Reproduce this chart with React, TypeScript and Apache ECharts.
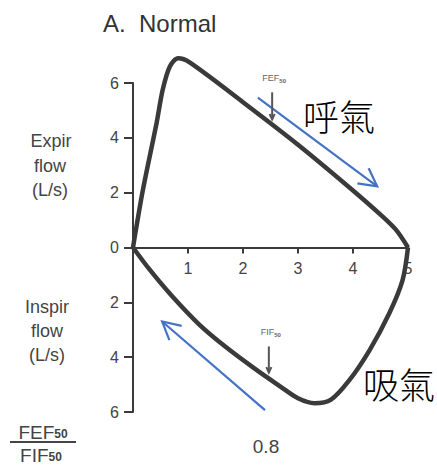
import React, { useEffect, useRef } from "react";
import * as echarts from "echarts";

// Flow–volume loop data (volume in L, flow in L/s; expiration positive, inspiration negative)
const expirVolume = [0, 0.18, 0.43, 0.54, 0.67, 0.82, 1.03, 2.0, 3.0, 3.93, 4.5, 4.78, 5.0];
const expirFlow = [0, 2.1, 4.55, 5.75, 6.6, 6.9, 6.75, 5.3, 3.75, 2.2, 1.2, 0.65, 0];
const inspirVolume = [0, 0.3, 0.7, 1.2, 1.7, 2.2, 2.7, 3.0, 3.3, 3.6, 3.93, 4.3, 4.66, 4.9, 5.0];
const inspirFlow = [0, -0.8, -1.75, -2.8, -3.65, -4.4, -5.1, -5.5, -5.68, -5.55, -4.85, -3.75, -2.4, -1.2, 0];

const xMin = 0, xMax = 5, xInterval = 1;
const yMin = -6, yMax = 6, yInterval = 2;

// Annotation anchors in data coordinates
const expirArrow = [[2.27, 5.47], [4.44, 2.23]];
const inspirArrow = [[2.4, -5.93], [0.53, -2.7]];
const fef50Mark = { v: 2.53, from: 5.66, to: 4.67, label: 6.2 };
const fif50Mark = { v: 2.47, from: -3.61, to: -4.56, label: -3.1 };
const ratioText = "0.8";

const FONT = "Liberation Sans, Arial, Helvetica, sans-serif";
const CJK = '"Noto Sans CJK TC", "Noto Sans CJK SC", sans-serif';
const INK = "#3a3a3a";
const TXT = "#444";
const BLUE = "#4472C4";

const GRID = { left: 133, right: 29, top: 83, bottom: 56 };
const H = 468;

function arrowHead(p0: number[], p1: number[], len: number, deg: number) {
  const dx = p1[0] - p0[0], dy = p1[1] - p0[1];
  const L = Math.hypot(dx, dy);
  const bx = -dx / L, by = -dy / L;
  const a = (deg * Math.PI) / 180;
  const w = (s: number) => {
    const c = Math.cos(s * a), sn = Math.sin(s * a);
    return [p1[0] + len * (bx * c - by * sn), p1[1] + len * (bx * sn + by * c)];
  };
  return [w(1), p1, w(-1)];
}

function txt(text: string, x: number, y: number, font: string, fill: string, align = "center", extra: any = {}) {
  return {
    type: "text",
    silent: true,
    style: {
      text, x, y, font, fill,
      textAlign: align, align,
      textVerticalAlign: "middle", verticalAlign: "middle",
      ...extra,
    },
  };
}

export default function App() {
  const ref = useRef<HTMLDivElement>(null);
  useEffect(() => {
    if (!ref.current) return;
    const chart = echarts.init(ref.current, undefined, { renderer: "svg" });
    const gridH = H - GRID.top - GRID.bottom;
    // shift the volume axis from the grid bottom up to flow = 0
    const zeroOffset = -gridH * (0 - yMin) / (yMax - yMin);
    chart.setOption({
      animation: false,
      grid: GRID,
      xAxis: {
        type: "value",
        min: xMin, max: xMax, interval: xInterval,
        offset: zeroOffset,
        axisLine: { onZero: false, lineStyle: { color: INK, width: 2 } },
        axisTick: { show: true, length: 6, lineStyle: { color: INK, width: 2 } },
        axisLabel: {
          margin: 13, fontSize: 16, fontFamily: FONT, color: TXT,
          formatter: (v: number) => (v === 0 ? "" : String(v)),
        },
        splitLine: { show: false },
      },
      yAxis: {
        type: "value",
        min: yMin, max: yMax, interval: yInterval,
        axisLine: { show: true, onZero: false, lineStyle: { color: INK, width: 2 } },
        axisTick: { show: true, length: 9, lineStyle: { color: INK, width: 2 } },
        axisLabel: {
          margin: 14, fontSize: 16, fontFamily: FONT, color: TXT,
          formatter: (v: number) => String(Math.abs(v)),
        },
        splitLine: { show: false },
      },
      series: [
        {
          type: "line",
          data: expirVolume.map((v, i) => [v, expirFlow[i]]),
          smooth: 0.3,
          symbol: "none",
          clip: false,
          lineStyle: { color: INK, width: 4.5 },
        },
        {
          type: "line",
          data: inspirVolume.map((v, i) => [v, inspirFlow[i]]),
          smooth: 0.3,
          symbol: "none",
          clip: false,
          lineStyle: { color: INK, width: 4.5 },
        },
      ],
    });

    const px = (p: number[]) => chart.convertToPixel({ gridIndex: 0 }, p) as number[];
    const graphic: any[] = [];

    // blue direction arrows
    for (const arr of [expirArrow, inspirArrow]) {
      const a = px(arr[0]), b = px(arr[1]);
      graphic.push({ type: "line", silent: true, shape: { x1: a[0], y1: a[1], x2: b[0], y2: b[1] }, style: { stroke: BLUE, lineWidth: 2.2 } });
      graphic.push({ type: "polyline", silent: true, shape: { points: arrowHead(a, b, 20, 28) }, style: { stroke: BLUE, lineWidth: 2.2, fill: null } });
    }

    // FEF50 / FIF50 markers
    for (const [m, name] of [[fef50Mark, "FEF"], [fif50Mark, "FIF"]] as any) {
      const a = px([m.v, m.from]), b = px([m.v, m.to]);
      graphic.push({ type: "line", silent: true, shape: { x1: a[0], y1: a[1], x2: b[0], y2: b[1] }, style: { stroke: "#555", lineWidth: 2 } });
      graphic.push({ type: "polyline", silent: true, shape: { points: arrowHead(a, b, 6, 25) }, style: { stroke: "#555", lineWidth: 2, fill: null } });
      const l = px([m.v, m.label]);
      graphic.push(txt(`{a|${name}}{b|50}`, l[0] + 2, l[1], `9px ${FONT}`, "#666", "center", {
        rich: {
          a: { font: `9px ${FONT}`, fill: "#666", lineHeight: 12 },
          b: { font: `bold 6px ${FONT}`, fill: "#666", verticalAlign: "bottom", lineHeight: 12 },
        },
      }));
    }

    // title and axis captions
    graphic.push(txt("A.  Normal", 103, 23, `24px ${FONT}`, "#333", "left"));
    graphic.push(txt("Expir", 51, 141, `18px ${FONT}`, TXT));
    graphic.push(txt("flow", 50, 166, `18px ${FONT}`, TXT));
    graphic.push(txt("(L/s)", 50, 190, `18px ${FONT}`, TXT));
    graphic.push(txt("Inspir", 47, 307, `18px ${FONT}`, TXT));
    graphic.push(txt("flow", 47, 331, `18px ${FONT}`, TXT));
    graphic.push(txt("(L/s)", 47, 355, `18px ${FONT}`, TXT));

    // Chinese labels
    graphic.push(txt("呼氣", 303, 115, `300 36px ${CJK}`, "#000", "left"));
    graphic.push(txt("吸氣", 363, 383, `300 36px ${CJK}`, "#000", "left"));

    // ratio
    const richFrac = {
      a: { font: `19px ${FONT}`, fill: TXT, lineHeight: 16 },
      b: { font: `bold 12px ${FONT}`, fill: TXT, verticalAlign: "bottom", lineHeight: 16 },
    };
    graphic.push(txt("{a|FEF}{b|50}", 43, 432, `19px ${FONT}`, TXT, "center", { rich: richFrac }));
    graphic.push({ type: "line", silent: true, shape: { x1: 10, y1: 442, x2: 76, y2: 442 }, style: { stroke: TXT, lineWidth: 2 } });
    graphic.push(txt("{a|FIF}{b|50}", 41, 455, `19px ${FONT}`, TXT, "center", { rich: richFrac }));
    graphic.push(txt(ratioText, 266, 446, `19px ${FONT}`, TXT));

    chart.setOption({ graphic });
    return () => chart.dispose();
  }, []);
  return (
    <div
      ref={ref}
      style={{ position: "fixed", left: 0, top: 0, width: 437, height: 468, background: "#fff" }}
    />
  );
}
